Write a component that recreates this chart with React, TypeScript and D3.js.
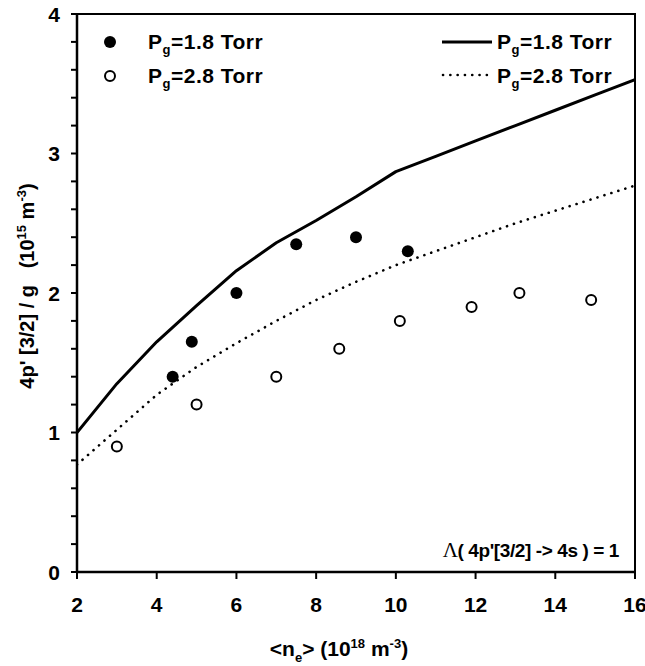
import React from "react";
import * as d3 from "d3";

const filledX = [4.4, 4.88, 6.0, 7.5, 9.0, 10.3];
const filledY = [1.4, 1.65, 2.0, 2.35, 2.4, 2.3];
const openX = [3.0, 5.0, 7.0, 8.58, 10.1, 11.9, 13.1, 14.9];
const openY = [0.9, 1.2, 1.4, 1.6, 1.8, 1.9, 2.0, 1.95];
const solidX = [2, 3, 4, 5, 6, 7, 8, 9, 10, 11, 12, 13, 14, 15, 16];
const solidY = [1.0, 1.35, 1.65, 1.91, 2.16, 2.36, 2.52, 2.69, 2.87, 2.98, 3.09, 3.2, 3.31, 3.42, 3.53];
const dotX = [2, 3, 4, 5, 6, 7, 8, 9, 10, 11, 12, 13, 14, 15, 16];
const dotY = [0.77, 1.02, 1.27, 1.47, 1.64, 1.8, 1.95, 2.08, 2.2, 2.3, 2.4, 2.5, 2.59, 2.68, 2.77];
const xTicks = [2, 4, 6, 8, 10, 12, 14, 16];
const yTicks = [0, 1, 2, 3, 4];
const yMinor = d3.range(0, 4.01, 0.2);

const L = 77, R = 635, T = 14, B = 572;
const FONT = "'Liberation Sans', Arial, sans-serif";

function Legend({ x0, y0, label }: { x0: number; y0: number; label: string }) {
  return (
    <text x={x0} y={y0} fontSize={21} letterSpacing={0.5}>P<tspan fontSize={13} dy={5}>g</tspan><tspan dy={-5}>{label}</tspan></text>
  );
}

export default function App() {
  const x = d3.scaleLinear().domain([2, 16]).range([L, R]);
  const y = d3.scaleLinear().domain([0, 4]).range([B, T]);
  const line = d3.line<[number, number]>().x(d => x(d[0])).y(d => y(d[1]));
  const solid = line(solidX.map((v, i) => [v, solidY[i]] as [number, number])) || "";
  const dotted = line(dotX.map((v, i) => [v, dotY[i]] as [number, number])) || "";

  return (
    <svg width={645} height={666} style={{ position: "absolute", left: 0, top: 0, background: "#fff" }} fontFamily={FONT} fontWeight="bold">
      <rect x={0} y={0} width={645} height={666} fill="#fff" />
      <defs>
        <clipPath id="clip"><rect x={L} y={T} width={R - L} height={B - T} /></clipPath>
      </defs>
      <rect x={L} y={T} width={R - L} height={B - T} fill="none" stroke="#000" strokeWidth={2} />
      <line x1={L} x2={L} y1={T} y2={B} stroke="#000" strokeWidth={2.5} />
      <line x1={L} x2={R} y1={B} y2={B} stroke="#000" strokeWidth={2.5} />
      {yMinor.map((v, i) => (
        <line key={"ym" + i} x1={L - 6} x2={L} y1={y(v)} y2={y(v)} stroke="#000" strokeWidth={2} />
      ))}
      {yTicks.map(v => (
        <text key={"yt" + v} x={60} y={y(v)} dy="0.36em" textAnchor="end" fontSize={21}>{v}</text>
      ))}
      {xTicks.map(v => (
        <g key={"xt" + v}>
          <line x1={x(v)} x2={x(v)} y1={B} y2={B + 7} stroke="#000" strokeWidth={2} />
          <text x={x(v)} y={612} textAnchor="middle" fontSize={21}>{v}</text>
        </g>
      ))}
      <g clipPath="url(#clip)">
        <path d={solid} fill="none" stroke="#000" strokeWidth={3} strokeLinejoin="round" />
        <path d={dotted} fill="none" stroke="#000" strokeWidth={2.6} strokeDasharray="0.1 7.2" strokeLinecap="round" />
      </g>
      {filledX.map((v, i) => (
        <circle key={"f" + i} cx={x(v)} cy={y(filledY[i])} r={6} fill="#000" />
      ))}
      {openX.map((v, i) => (
        <circle key={"o" + i} cx={x(v)} cy={y(openY[i])} r={5} fill="#fff" stroke="#000" strokeWidth={2} />
      ))}
      <circle cx={110} cy={42} r={6} fill="#000" />
      <circle cx={110} cy={76} r={5} fill="#fff" stroke="#000" strokeWidth={2} />
      <Legend x0={148} y0={49} label="=1.8 Torr" />
      <Legend x0={148} y0={83} label="=2.8 Torr" />
      <line x1={442} x2={492} y1={42} y2={42} stroke="#000" strokeWidth={3} />
      <line x1={443} x2={492} y1={75} y2={75} stroke="#000" strokeWidth={2.6} strokeDasharray="0.1 7.2" strokeLinecap="round" />
      <Legend x0={497} y0={49} label="=1.8 Torr" />
      <Legend x0={497} y0={83} label="=2.8 Torr" />
      <text x={619} y={557} textAnchor="end" fontSize={19} letterSpacing={-0.4}>
        <tspan fontFamily="'Liberation Serif', serif" fontWeight="normal" fontSize={21}>Λ</tspan>( 4p'[3/2] -&gt; 4s ) = 1
      </text>
      <text x={339} y={656} textAnchor="middle" fontSize={21}>
        &lt;n<tspan fontSize={13} dy={6}>e</tspan><tspan dy={-6}>&gt; (10</tspan><tspan fontSize={13} dy={-8}>18</tspan><tspan dy={8}> m</tspan><tspan fontSize={13} dy={-8}>-3</tspan><tspan dy={8}>)</tspan>
      </text>
      <text transform={`translate(34,286) rotate(-90)`} textAnchor="middle" fontSize={20}>
        4p' [3/2] / g{"\u00a0\u00a0\u00a0"}(10<tspan fontSize={13} dy={-8}>15</tspan><tspan dy={8}> m</tspan><tspan fontSize={13} dy={-8}>-3</tspan><tspan dy={8}>)</tspan>
      </text>
    </svg>
  );
}
